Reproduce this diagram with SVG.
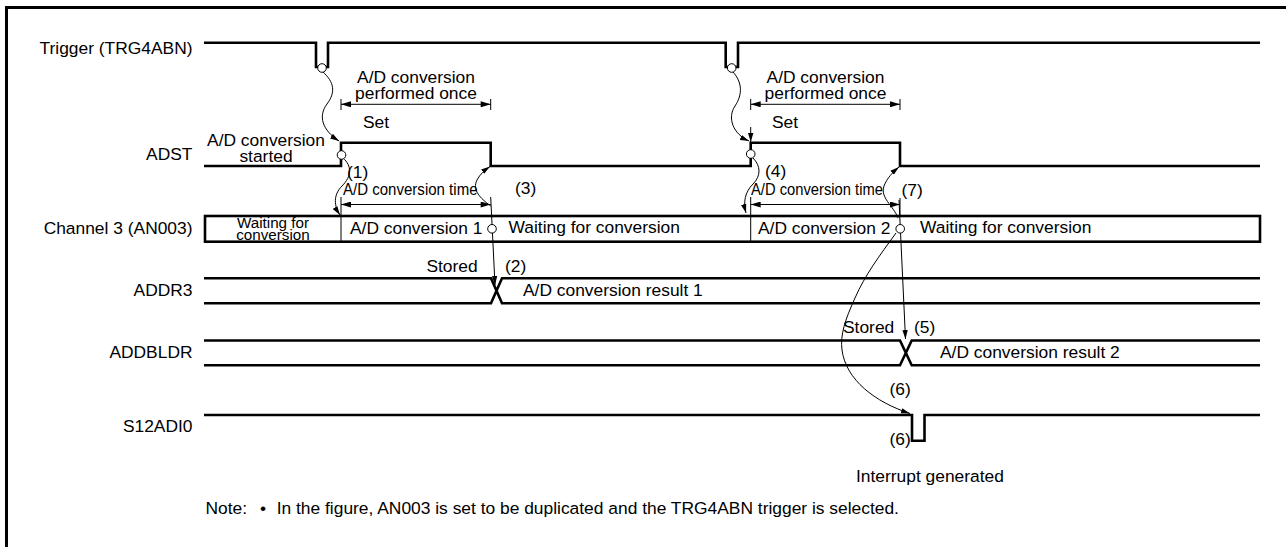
<svg xmlns="http://www.w3.org/2000/svg" width="1286" height="547" viewBox="0 0 1286 547">
<style>
text{font-family:"Liberation Sans",Arial,sans-serif;font-size:17.4px;fill:#000}
.lbl{text-anchor:end}
.mid{text-anchor:middle}
.sig{fill:none;stroke:#000;stroke-width:2.6;stroke-linejoin:miter}
.thin{fill:none;stroke:#000;stroke-width:1}
.arr{fill:none;stroke:#000;stroke-width:1;marker-end:url(#ah)}
.dim{fill:none;stroke:#000;stroke-width:1;marker-start:url(#dh);marker-end:url(#dh)}
.circ{fill:#fff;stroke:#000;stroke-width:1}
</style>
<defs>
<marker id="ah" viewBox="0 0 10 6" refX="10" refY="3" markerWidth="9" markerHeight="6" markerUnits="userSpaceOnUse" orient="auto"><path d="M0,0 L10,3 L0,6 z" fill="#000"/></marker>
<marker id="dh" viewBox="0 0 10 6" refX="10" refY="3" markerWidth="11" markerHeight="6" markerUnits="userSpaceOnUse" orient="auto-start-reverse"><path d="M0,0 L10,3 L0,6 z" fill="#000"/></marker>
</defs>
<rect width="1286" height="547" fill="#fff"/>
<g id="frame"><path d="M6.5,547 V7.5 H1286" fill="none" stroke="#000" stroke-width="3"/></g>

<g id="trigger">
<text class="lbl" x="192.5" y="54">Trigger (TRG4ABN)</text>
<path class="sig" d="M204,42.7 H316 V67 H328 V42.7 H725.7 V67 H738 V42.7 H1260"/>
</g>

<g id="adst">
<text class="lbl" x="192.5" y="160">ADST</text>
<path class="sig" d="M204,166 H341 V142.7 H490.7 V166 H750.7 V142.7 H900 V166 H1260"/>
<text class="mid" x="266" y="146">A/D conversion<tspan x="266" dy="16">started</tspan></text>
<text x="363" y="128">Set</text>
<text x="772" y="128">Set</text>
</g>

<g id="channel3">
<text class="lbl" x="192.5" y="234">Channel 3 (AN003)</text>
<rect x="205" y="216" width="1055" height="25.7" fill="none" stroke="#000" stroke-width="2.6"/>
<line x1="341" y1="197" x2="341" y2="241" stroke="#000" stroke-width="1"/>
<line x1="750.7" y1="197" x2="750.7" y2="241" stroke="#000" stroke-width="1"/>
<text class="mid" x="273" y="228.3" style="font-size:15.2px">Waiting for<tspan x="273" dy="11.2">conversion</tspan></text>
<text x="350" y="234">A/D conversion 1</text>
<text x="508.5" y="233">Waiting for conversion</text>
<text x="758" y="234">A/D conversion 2</text>
<text x="920" y="233">Waiting for conversion</text>
</g>

<g id="addr3">
<text class="lbl" x="192.5" y="296">ADDR3</text>
<path class="sig" d="M204,278.3 H491 L502,303.3 H1260 M204,303.3 H491 L502,278.3 H1260"/>
<text x="523" y="296">A/D conversion result 1</text>
<text class="lbl" x="477.7" y="271.7">Stored</text>
<text x="505" y="271.7">(2)</text>
</g>

<g id="addbldr">
<text class="lbl" x="192.5" y="358">ADDBLDR</text>
<path class="sig" d="M204,340.5 H900 L911.7,365.3 H1260 M204,365.3 H900 L911.7,340.5 H1260"/>
<text x="940" y="357.5">A/D conversion result 2</text>
<text x="843" y="333">Stored</text>
<text x="914" y="333">(5)</text>
</g>

<g id="s12adi0">
<text class="lbl" x="192.5" y="432">S12ADI0</text>
<path class="sig" d="M204,415 H912 V440.7 H924.5 V415 H1260"/>
<text x="889.5" y="395">(6)</text>
<text x="889.5" y="445">(6)</text>
<text x="856" y="481.5">Interrupt generated</text>
</g>

<g id="dimensions">
<line class="dim" x1="341" y1="104.3" x2="490.7" y2="104.3"/>
<line x1="341" y1="99" x2="341" y2="110" stroke="#000"/>
<line x1="490.7" y1="99" x2="490.7" y2="110" stroke="#000"/>
<text class="mid" x="416" y="83">A/D conversion<tspan x="416" dy="16">performed once</tspan></text>
<line class="dim" x1="750.7" y1="104.3" x2="900" y2="104.3"/>
<line x1="750.7" y1="99" x2="750.7" y2="110" stroke="#000"/>
<line x1="900" y1="99" x2="900" y2="110" stroke="#000"/>
<text class="mid" x="825.5" y="83">A/D conversion<tspan x="825.5" dy="16">performed once</tspan></text>
<line class="dim" x1="341" y1="204.5" x2="490.7" y2="204.5"/>
<line class="dim" x1="750.7" y1="204.5" x2="900" y2="204.5"/>
<line x1="900" y1="198" x2="900" y2="216" stroke="#000"/>
<text transform="translate(343,195) scale(0.865,1)">A/D conversion time</text>
<text transform="translate(751,195) scale(0.848,1)">A/D conversion time</text>
<text x="347" y="178">(1)</text>
<text x="765" y="177">(4)</text>
<text x="515" y="194">(3)</text>
<text x="901.5" y="196">(7)</text>
</g>

<g id="connectors">
<path class="arr" d="M323,72 C334,82 336,92 327,104 C318,116 322,130 339,141"/>
<path class="arr" d="M733,72 C742,82 743,94 735,106 C727,118 733,134 749,141"/>
<path class="arr" d="M750.7,127 V142"/>
<path class="arr" d="M343,158 C352,166 352,176 342,186 C333,195 334,206 340,215"/>
<path class="arr" d="M753,158 C761,166 761,176 753,184 C745,192 743,202 746,213"/>
<path class="arr" d="M490.7,206 C480,198 472,190 477,180 C480,174 485,170 490,166.5"/>
<path class="arr" d="M898,218 C893,205 880,198 884,186 C887,178 893,172 899,167"/>
<path class="arr" d="M490.7,197 L495,285"/>
<path class="arr" d="M899,200 L905.5,339"/>
<path class="arr" d="M896,233 C880,255 865,275 855,298 C845,320 840,335 842,350 C846,380 875,402 910,413.5"/>
<circle class="circ" cx="322" cy="68" r="4.3"/>
<circle class="circ" cx="731.7" cy="68" r="4.3"/>
<circle class="circ" cx="341.5" cy="155" r="4.3"/>
<circle class="circ" cx="750.7" cy="154" r="4.3"/>
<circle class="circ" cx="492" cy="228.8" r="4.3"/>
<circle class="circ" cx="900.2" cy="228.8" r="4.3"/>
</g>

<g id="note">
<text x="205.5" y="514">Note:</text>
<text x="263" y="514" class="mid">•</text>
<text x="276.7" y="514">In the figure, AN003 is set to be duplicated and the TRG4ABN trigger is selected.</text>
</g>
</svg>
